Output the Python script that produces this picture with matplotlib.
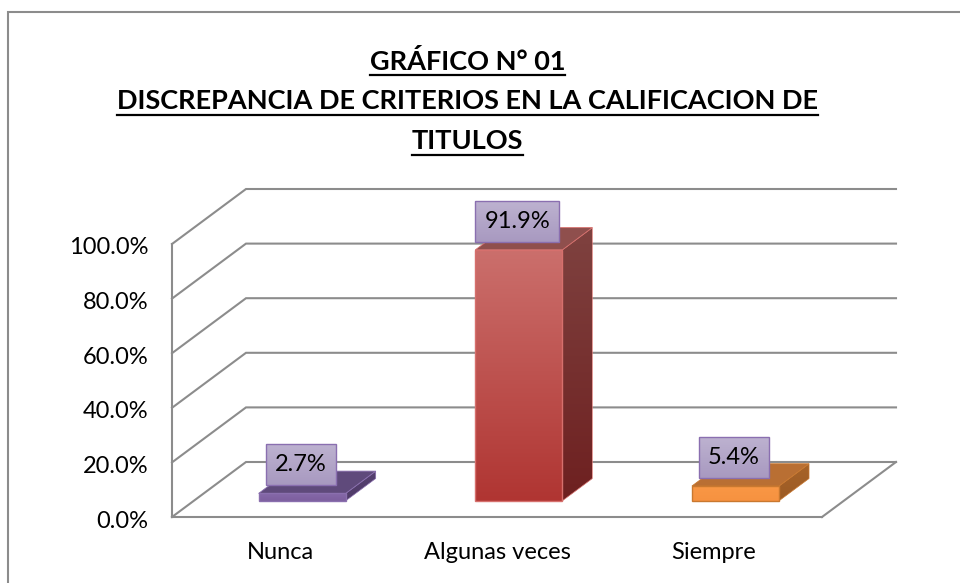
import numpy as np
import matplotlib
matplotlib.use("Agg")
import matplotlib.pyplot as plt
from matplotlib.colors import LinearSegmentedColormap
from matplotlib.lines import Line2D
from matplotlib.patches import Polygon
from matplotlib.transforms import Affine2D

categories = ["Nunca", "Algunas veces", "Siempre"]
values = [2.7, 91.9, 5.4]
yticks = [0, 20, 40, 60, 80, 100]
title_lines = ["GRÁFICO N° 01",
               "DISCREPANCIA DE CRITERIOS EN LA CALIFICACION DE",
               "TITULOS"]

# colores: frente arriba, frente abajo, borde, tapa, lado arriba, lado abajo
colors = [
    ("#8568a8", "#7d5f9f", "#8a6fae", "#5f4a7b", "#55406f", "#4f3b68"),
    ("#cb6f6c", "#b03532", "#d6706d", "#8f4f4d", "#7f4240", "#6e2020"),
    ("#f99745", "#f69240", "#c9782f", "#b96f33", "#a76329", "#9c5b24"),
]

W, H = 960, 583
GRAY = "#8c8c8c"
FS = 17
plt.rcParams["font.family"] = ["Lato", "DejaVu Sans"]

fig = plt.figure(figsize=(W / 100, H / 100), dpi=100)
# caja del plano frontal en pixeles: x 172-822, y 244-517
ax = fig.add_axes([172 / W, 1 - 517 / H, 650 / W, 273 / H])
ax.set_xlim(0, 3)
ax.set_ylim(0, 100)

# un pixel en unidades de datos
PX = 3 / 650
PY = 100 / 273
# desplazamiento de la profundidad
DX = 74 * PX
DY = 55 * PY


def gradient_poly(verts, top, bottom, zorder):
    verts = np.array(verts)
    cmap = LinearSegmentedColormap.from_list("g", [top, bottom])
    ext = [verts[:, 0].min(), verts[:, 0].max(), verts[:, 1].min(), verts[:, 1].max()]
    im = ax.imshow(np.linspace(0, 1, 256).reshape(-1, 1), cmap=cmap, extent=ext,
                   origin="upper", aspect="auto", zorder=zorder)
    im.set_clip_path(Polygon(verts, transform=ax.transData))
    im.set_clip_box(fig.bbox)


# paredes y lineas de cuadricula
for v in yticks:
    ax.plot([0, DX, 3 + DX], [v, v + DY, v + DY], color=GRAY, lw=1.5,
            clip_on=False, zorder=1, solid_joinstyle="miter")
ax.plot([3, 3 + DX], [0, DY], color=GRAY, lw=1.5, clip_on=False, zorder=1)

# barras
width = 0.402
d0, d1 = 0.295, 0.70
for i, v in enumerate(values):
    c_front, c_front2, c_edge, c_top, c_side, c_side2 = colors[i]
    x0 = i + 0.5 - width / 2 + d0 * DX
    x1 = x0 + width
    y0 = d0 * DY
    y1 = y0 + v
    ox = (d1 - d0) * DX
    oy = (d1 - d0) * DY
    front = [(x0, y0), (x1, y0), (x1, y1), (x0, y1)]
    side = [(x1, y0), (x1 + ox, y0 + oy), (x1 + ox, y1 + oy), (x1, y1)]
    top = [(x0, y1), (x1, y1), (x1 + ox, y1 + oy), (x0 + ox, y1 + oy)]
    gradient_poly(side, c_side, c_side2, 3)
    ax.add_patch(Polygon(side, fc="none", ec=c_edge, lw=0.5, clip_on=False, zorder=3.1))
    ax.add_patch(Polygon(top, fc=c_top, ec=c_edge, lw=0.6, clip_on=False, zorder=3.2))
    gradient_poly(front, c_front, c_front2, 4)
    ax.add_patch(Polygon(front, fc="none", ec=c_edge, lw=1, clip_on=False, zorder=4.1))

    # etiqueta de datos
    label = f"{v:.1f}%"
    xc = (x0 + x1) / 2 - 1.5 * PX
    yc = y1 + 28.5 * PY
    hw = (14 * len(label) + 14) / 2 * PX
    hh = 20.5 * PY
    box = [(xc - hw, yc - hh), (xc + hw, yc - hh), (xc + hw, yc + hh), (xc - hw, yc + hh)]
    gradient_poly(box, "#bdb2d0", "#a899c0", 5)
    ax.add_patch(Polygon(box, fc="none", ec="#8a6fb0", lw=1, clip_on=False, zorder=5.1))
    ax.text(xc, yc, label, ha="center", va="center", fontsize=FS, color="black",
            zorder=6, clip_on=False)

ax.set_xlim(0, 3)
ax.set_ylim(0, 100)

# ejes
for s in ["top", "right"]:
    ax.spines[s].set_visible(False)
for s in ["left", "bottom"]:
    ax.spines[s].set_color(GRAY)
    ax.spines[s].set_linewidth(1.5)
ax.patch.set_visible(False)
ax.set_yticks(yticks)
ax.set_yticklabels([f"{v:.1f}%" for v in yticks], fontsize=FS)
ax.set_xticks([0.5, 1.5, 2.5])
ax.set_xticklabels(categories, fontsize=FS)
ax.tick_params(axis="y", length=0, pad=17)
ax.tick_params(axis="x", length=0, pad=18)
for lab in ax.get_yticklabels():
    lab.set_transform(lab.get_transform() + Affine2D().translate(0, -2))

# marco (solo arriba e izquierda)
fig.add_artist(Line2D([8 / W, 8 / W, 1], [0, 1 - 11.5 / H, 1 - 11.5 / H],
                      color=GRAY, lw=1.5, solid_joinstyle="miter"))

# titulo subrayado
fig.canvas.draw()
renderer = fig.canvas.get_renderer()
for line, yc in zip(title_lines, [61, 101, 141]):
    t = fig.text(467.5 / W, 1 - yc / H, line, ha="center", va="center",
                 fontsize=19.5, fontweight="bold", color="black")
    bb = t.get_window_extent(renderer)
    yu = 1 - (yc + 13.5) / H
    fig.add_artist(Line2D([bb.x0 / W, bb.x1 / W], [yu, yu], color="black", lw=1.6))

fig.savefig("out.png", dpi=100, facecolor="white")
